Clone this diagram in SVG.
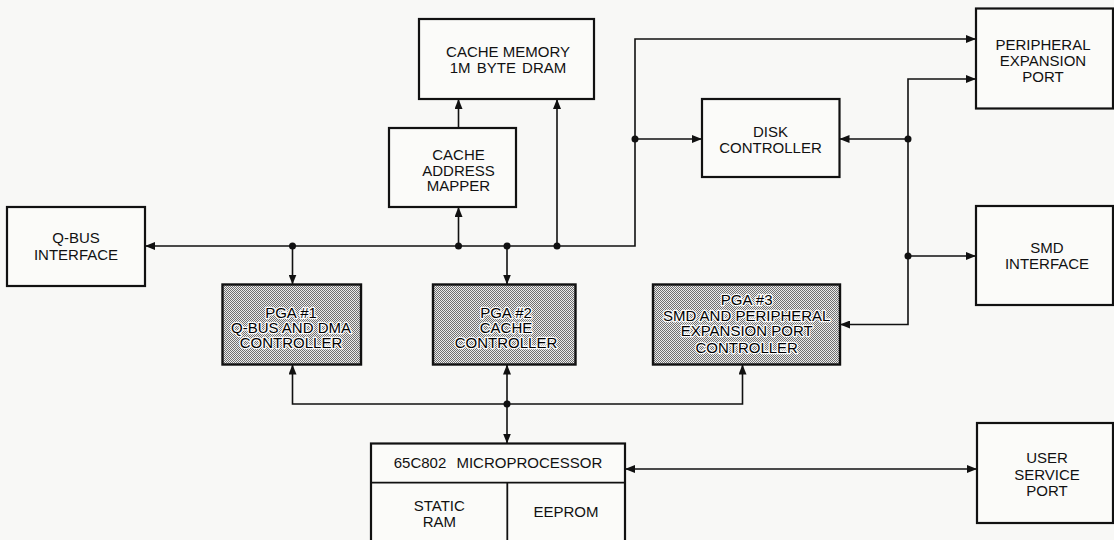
<svg xmlns="http://www.w3.org/2000/svg" width="1114" height="540" viewBox="0 0 1114 540">
<defs>
<style>
.box{fill:#fbfbf9;stroke:#111;stroke-width:2.2}
.pga{fill:url(#dots);stroke:#111;stroke-width:2.4}
.ln{fill:none;stroke:#111;stroke-width:1.6}
.dot{fill:#111}
text{font-family:"Liberation Sans",Arial,Helvetica,sans-serif;font-size:15px;fill:#111;text-anchor:middle}
.pt{fill:#000;stroke:#fafafa;stroke-width:2.6;paint-order:stroke;stroke-linejoin:round}
</style>
<pattern id="dots" width="2" height="2" patternUnits="userSpaceOnUse">
<rect width="2" height="2" fill="#ececec"/>
<rect x="0" y="0" width="1" height="1" fill="#707070"/>
<rect x="1" y="1" width="1" height="1" fill="#707070"/>
</pattern>
<marker id="ah" viewBox="0 0 10 8" refX="10" refY="4" markerWidth="10" markerHeight="8" markerUnits="userSpaceOnUse" orient="auto-start-reverse">
<path d="M0,0 L10,4 L0,8 z" fill="#111"/>
</marker>
</defs>
<rect width="1114" height="540" fill="#f8f8f6"/>

<g id="connectors">
<path class="ln" d="M976,39 H635 V246 H145" marker-start="url(#ah)" marker-end="url(#ah)"/>
<path class="ln" d="M292.5,246 V284.5" marker-end="url(#ah)"/>
<path class="ln" d="M458.5,246 V207" marker-end="url(#ah)"/>
<path class="ln" d="M458.5,128 V99" marker-end="url(#ah)"/>
<path class="ln" d="M507,246 V284.5" marker-end="url(#ah)"/>
<path class="ln" d="M557,246 V99" marker-end="url(#ah)"/>
<path class="ln" d="M635,139 H702" marker-end="url(#ah)"/>
<path class="ln" d="M976,79 H908 V324.5 H840" marker-start="url(#ah)" marker-end="url(#ah)"/>
<path class="ln" d="M908,139 H839.5" marker-end="url(#ah)"/>
<path class="ln" d="M908,256 H976" marker-end="url(#ah)"/>
<path class="ln" d="M292.5,364.5 V404 H742.5 V364.5" marker-start="url(#ah)" marker-end="url(#ah)"/>
<path class="ln" d="M507,364.5 V443.5" marker-start="url(#ah)" marker-end="url(#ah)"/>
<path class="ln" d="M625,469 H977" marker-start="url(#ah)" marker-end="url(#ah)"/>
<circle class="dot" cx="292.5" cy="246" r="3.5"/>
<circle class="dot" cx="458.5" cy="246" r="3.5"/>
<circle class="dot" cx="507" cy="246" r="3.5"/>
<circle class="dot" cx="557" cy="246" r="3.5"/>
<circle class="dot" cx="635" cy="139" r="3.5"/>
<circle class="dot" cx="908" cy="139" r="3.5"/>
<circle class="dot" cx="908" cy="256" r="3.5"/>
<circle class="dot" cx="507" cy="404" r="3.5"/>
</g>

<g id="qbus">
<rect class="box" x="7" y="207" width="138" height="79"/>
<text x="76" y="243">Q-BUS</text>
<text x="76" y="260">INTERFACE</text>
</g>

<g id="cache-memory">
<rect class="box" x="419" y="19" width="175" height="80"/>
<text x="508" y="57">CACHE MEMORY</text>
<text x="508" y="73" word-spacing="2">1M BYTE DRAM</text>
</g>

<g id="cache-address-mapper">
<rect class="box" x="389" y="128" width="127" height="79"/>
<text x="458.5" y="159.5">CACHE</text>
<text x="458.5" y="175.5">ADDRESS</text>
<text x="458.5" y="191">MAPPER</text>
</g>

<g id="disk-controller">
<rect class="box" x="702" y="99" width="137.5" height="78"/>
<text x="770.5" y="136.7">DISK</text>
<text x="770.5" y="153.3">CONTROLLER</text>
</g>

<g id="peripheral-port">
<rect class="box" x="976" y="8.5" width="137" height="100"/>
<text x="1043" y="49.5">PERIPHERAL</text>
<text x="1043" y="65.7">EXPANSION</text>
<text x="1043" y="82">PORT</text>
</g>

<g id="smd-interface">
<rect class="box" x="976" y="206" width="137" height="99"/>
<text x="1047" y="253.3">SMD</text>
<text x="1047" y="269.3">INTERFACE</text>
</g>

<g id="user-service-port">
<rect class="box" x="977" y="423" width="136" height="100"/>
<text x="1047" y="463.3">USER</text>
<text x="1047" y="480">SERVICE</text>
<text x="1047" y="496">PORT</text>
</g>

<g id="pga1">
<rect class="pga" x="222.5" y="284.5" width="138.5" height="80"/>
<text class="pt" x="291" y="318">PGA #1</text>
<text class="pt" x="291" y="333">Q-BUS AND DMA</text>
<text class="pt" x="291" y="348">CONTROLLER</text>
</g>

<g id="pga2">
<rect class="pga" x="433" y="284.5" width="142.5" height="80"/>
<text class="pt" x="506" y="318">PGA #2</text>
<text class="pt" x="506" y="333">CACHE</text>
<text class="pt" x="506" y="348">CONTROLLER</text>
</g>

<g id="pga3">
<rect class="pga" x="653" y="284.5" width="187" height="80"/>
<text class="pt" x="746.7" y="305">PGA #3</text>
<text class="pt" x="746.7" y="320.7">SMD AND PERIPHERAL</text>
<text class="pt" x="746.7" y="336">EXPANSION PORT</text>
<text class="pt" x="746.7" y="352.5">CONTROLLER</text>
</g>

<g id="microprocessor">
<rect class="box" x="371" y="443.5" width="254" height="102"/>
<path class="ln" style="stroke-width:1.8" d="M371,482.7 H625 M507.3,482.7 V546"/>
<text x="498" y="468.3" word-spacing="6">65C802 MICROPROCESSOR</text>
<text x="439.3" y="510.7">STATIC</text>
<text x="439.3" y="527">RAM</text>
<text x="566" y="516.7">EEPROM</text>
</g>
</svg>
